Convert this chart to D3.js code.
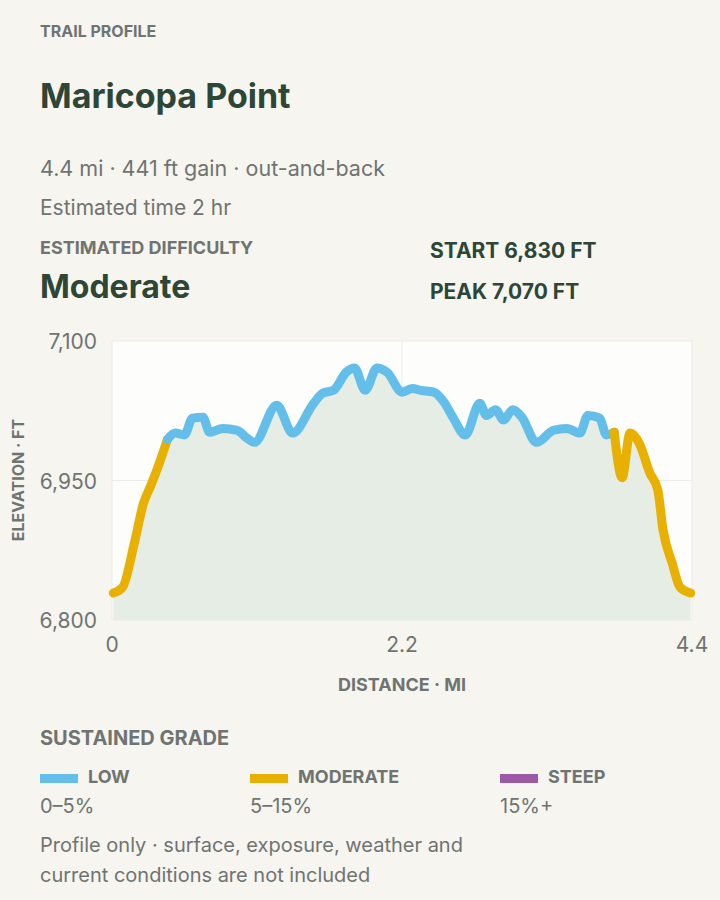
<!DOCTYPE html>
<html><head><meta charset="utf-8">
<script src="https://cdn.jsdelivr.net/npm/d3@7"></script>
<style>
  body { margin:0; background:#f6f5f0; font-family:Inter, "Noto Sans", sans-serif; }
  svg { display:block; }
</style></head>
<body><svg id="c" width="720" height="900"></svg>
<script>
// Profile (miles, feet)
const dist = [0.01,0.08,0.17,0.24,0.29,0.35,0.42,0.48,0.55,0.61,0.69,0.74,0.84,0.95,1.02,1.08,1.25,1.37,1.53,1.60,1.68,1.78,1.84,1.92,2.01,2.09,2.20,2.28,2.34,2.44,2.52,2.59,2.68,2.79,2.84,2.91,2.97,3.04,3.11,3.22,3.35,3.45,3.55,3.61,3.70,3.75,3.81,3.87,3.93,4.00,4.08,4.14,4.18,4.25,4.31,4.39];
const elev = [6829,6835,6883,6926,6943,6965,6994,7001,6999,7017,7018,7002,7006,7004,6996,6991,7031,7001,7033,7044,7047,7067,7071,7047,7071,7066,7045,7049,7047,7045,7034,7017,6999,7033,7020,7026,7015,7026,7018,6991,7004,7006,7001,7020,7017,6999,7002,6953,7001,6990,6958,6940,6897,6861,6835,6829];
// sustained grade class per segment start
const gradeClass = dist.map(d => (d < 0.42 || d >= 3.80) ? 'moderate' : 'low');
const gradeKeys = ['low','moderate','steep'];
const gradeNames = ['LOW','MODERATE','STEEP'];
const gradeRanges = ['0–5%','5–15%','15%+'];
const COLOR = { low:'#63bfea', moderate:'#e8b000', steep:'#9b59a6' };
const yTicks = [6800, 6950, 7100];
const xTicks = [0, 2.2, 4.4];

const svg = d3.select('#c');
const dark = '#2d4636', gray = '#6f7470';

const txt = (x, y, s, size, weight, fill, anchor='start') =>
  svg.append('text').attr('x', x).attr('y', y).attr('font-size', size).attr('font-weight', weight)
    .attr('fill', fill).attr('text-anchor', anchor).text(s);

txt(40, 37, 'TRAIL PROFILE', 16, 700, gray);
txt(40, 108, 'Maricopa Point', 34, 700, dark);
txt(40, 176, '4.4 mi · 441 ft gain · out-and-back', 21.5, 400, gray);
txt(40, 215, 'Estimated time 2 hr', 21, 400, gray);
txt(40, 254, 'ESTIMATED DIFFICULTY', 18, 700, gray);
txt(40, 298, 'Moderate', 32, 700, dark);
txt(430, 258, 'START 6,830 FT', 21, 700, dark);
txt(430, 299, 'PEAK 7,070 FT', 21, 700, dark);

const x = d3.scaleLinear().domain([0, 4.4]).range([112, 692]);
const y = d3.scaleLinear().domain([6800, 7100]).range([620, 341]);

svg.append('rect').attr('x', 112).attr('y', 341).attr('width', 580).attr('height', 279)
  .attr('fill', '#fdfdfb').attr('stroke', '#ecebe6');
svg.append('line').attr('x1', x(2.2)).attr('x2', x(2.2)).attr('y1', 341).attr('y2', 620).attr('stroke', '#ecebe6');
svg.append('line').attr('x1', 112).attr('x2', 692).attr('y1', y(6950)).attr('y2', y(6950)).attr('stroke', '#ecebe6');

const pts = dist.map((d, i) => [d, elev[i]]);
svg.append('path').datum(pts)
  .attr('d', d3.area().x(p => x(p[0])).y0(620).y1(p => y(p[1])).curve(d3.curveMonotoneX))
  .attr('fill', '#e5ede5');

// group consecutive segments of the same class into runs
const runs = [];
for (let i = 0; i < pts.length - 1; i++) {
  const c = gradeClass[i];
  if (!runs.length || runs[runs.length - 1].c !== c) runs.push({ c, p: [pts[i]] });
  runs[runs.length - 1].p.push(pts[i + 1]);
}
const line = d3.line().x(p => x(p[0])).y(p => y(p[1])).curve(d3.curveMonotoneX);
runs.forEach(r => {
  svg.append('path').datum(r.p).attr('d', line)
    .attr('fill', 'none').attr('stroke', COLOR[r.c])
    .attr('stroke-width', 9).attr('stroke-linecap', 'round').attr('stroke-linejoin', 'round');
});

yTicks.forEach(t => txt(97, y(t) + 8, d3.format(',')(t), 21, 400, gray, 'end'));
xTicks.forEach(t => txt(x(t), 652, String(t), 21, 400, gray, 'middle'));
txt(402, 691, 'DISTANCE · MI', 18, 700, gray, 'middle');
svg.append('text').attr('transform', 'translate(24,480) rotate(-90)').attr('text-anchor', 'middle')
  .attr('font-size', 16).attr('font-weight', 700).attr('fill', gray).text('ELEVATION · FT');

txt(40, 745, 'SUSTAINED GRADE', 20, 700, gray);
const colX = [40, 250, 500];
gradeKeys.forEach((k, i) => {
  const gx = colX[i];
  svg.append('rect').attr('x', gx).attr('y', 774).attr('width', 38).attr('height', 9).attr('fill', COLOR[k]);
  txt(gx + 48, 783, gradeNames[i], 18, 700, gray);
  txt(gx, 813, gradeRanges[i], 20, 400, gray);
});
txt(40, 852, 'Profile only · surface, exposure, weather and', 20, 400, gray);
txt(40, 882, 'current conditions are not included', 20, 400, gray);
</script></body></html>
